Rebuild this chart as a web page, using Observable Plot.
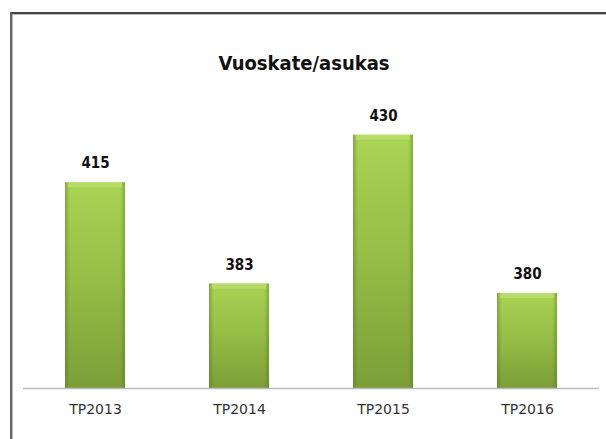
<!DOCTYPE html>
<html>
<head>
<meta charset="utf-8">
<script src="https://cdn.jsdelivr.net/npm/d3@7"></script>
<script src="https://cdn.jsdelivr.net/npm/@observablehq/plot@0.6"></script>
<style>
  html, body { margin: 0; padding: 0; background: #fff; }
  #wrap { position: relative; width: 606px; height: 439px; overflow: hidden; background: #fff; }
  #frame { position: absolute; left: 10px; top: 12px; width: 700px; height: 600px;
           border-top: 2px solid #444; border-left: 2px solid #666; box-shadow: inset 1px 1px 0 #bbb; }
  #title { position: absolute; left: 0; width: 608px; top: 51px; text-align: center;
           font-family: "DejaVu Sans Condensed", "Liberation Sans", sans-serif;
           font-weight: bold; font-size: 20px; color: #111; }
  #chart { position: absolute; left: 0; top: 0; }
</style>
</head>
<body>
<div id="wrap">
  <div id="frame"></div>
  <div id="title">Vuoskate/asukas</div>
  <div id="chart"></div>
</div>
<script>
const categories = ["TP2013", "TP2014", "TP2015", "TP2016"];
const values = [415, 383, 430, 380];
const yDomain = [350, 440];

const data = categories.map((c, i) => ({ cat: c, value: values[i] }));

const plot = Plot.plot({
  width: 606,
  height: 439,
  marginLeft: 23,
  marginRight: 7,
  marginTop: 103,
  marginBottom: 51,
  style: { background: "transparent", overflow: "visible" },
  x: { domain: categories, paddingInner: 0.583, paddingOuter: 0.2915, label: null, tickSize: 0 },
  y: { domain: yDomain, axis: null },
  marks: [
    () => {
      const ns = "http://www.w3.org/2000/svg";
      const defs = document.createElementNS(ns, "defs");
      defs.innerHTML = `
        <linearGradient id="gv" x1="0" y1="0" x2="0" y2="1">
          <stop offset="0" stop-color="#a9d454"/>
          <stop offset="0.5" stop-color="#93bd45"/>
          <stop offset="1" stop-color="#7b9f37"/>
        </linearGradient>
        <linearGradient id="gh" x1="0" y1="0" x2="1" y2="0">
          <stop offset="0" stop-color="#4f6b1c" stop-opacity="0.4"/>
          <stop offset="0.08" stop-color="#4f6b1c" stop-opacity="0"/>
          <stop offset="0.92" stop-color="#4f6b1c" stop-opacity="0"/>
          <stop offset="1" stop-color="#4f6b1c" stop-opacity="0.4"/>
        </linearGradient>`;
      return defs;
    },
    Plot.barY(data, { x: "cat", y1: yDomain[0], y2: "value", fill: "url(#gv)" }),
    Plot.barY(data, { x: "cat", y1: yDomain[0], y2: "value", fill: "url(#gh)" }),
    Plot.barY(data, { x: "cat", y1: (d) => d.value - 1.6, y2: "value", fill: "#c2e27a", fillOpacity: 0.6, insetLeft: 3, insetRight: 3 }),
    Plot.ruleY([yDomain[0]], { stroke: "#bbbbbb", strokeWidth: 1.5 }),
    Plot.text(data, {
      x: "cat", y: "value", text: (d) => String(d.value), dy: -19,
      fontFamily: "DejaVu Sans Condensed, Liberation Sans, sans-serif",
      fontWeight: "bold", fontSize: 15, fill: "#111"
    }),
    Plot.axisX({
      tickSize: 0, tickPadding: 16, fontSize: 14,
      fontFamily: "DejaVu Sans, Liberation Sans, sans-serif",
      fill: "#333", label: null
    })
  ]
});
document.getElementById("chart").appendChild(plot);
</script>
</body>
</html>
